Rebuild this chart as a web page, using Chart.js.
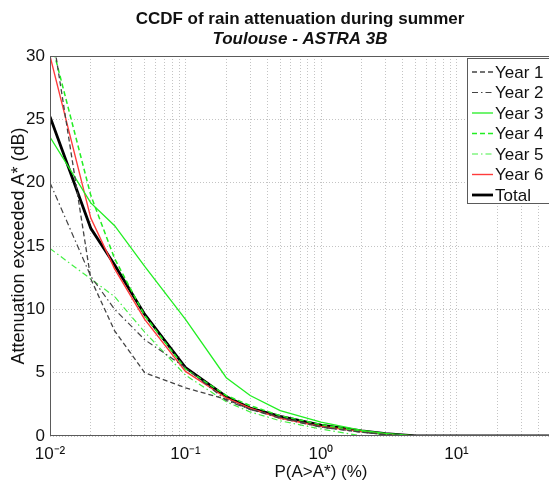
<!DOCTYPE html>
<html>
<head>
<meta charset="utf-8">
<script src="https://cdn.jsdelivr.net/npm/chart.js@4/dist/chart.umd.min.js"></script>
<style>
  body { margin: 0; overflow: hidden; background: #fff; }
  #wrap { width: 600px; height: 484px; }
</style>
</head>
<body>
<div id="wrap"><canvas id="myChart" width="600" height="484"></canvas></div>
<script>
// probabilities (%) and attenuation (dB)
const probs = [0.01, 0.02, 0.03, 0.05, 0.1, 0.2, 0.3, 0.5, 1, 2, 3, 5, 10, 20, 30, 50, 100];
const year1 = [33.0, 12.4, 8.3, 5.0, 3.8, 2.9, 2.1, 1.5, 0.7, 0.3, 0.1, 0, 0, 0, 0, 0, 0];
const year2 = [20.0, 12.6, 10.0, 7.6, 5.4, 2.8, 2.1, 1.4, 0.7, 0.3, 0.1, 0, 0, 0, 0, 0, 0];
const year3 = [23.6, 18.4, 16.6, 13.4, 9.2, 4.6, 3.2, 2.0, 1.1, 0.45, 0.2, 0, 0, 0, 0, 0, 0];
const year4 = [31.5, 19.0, 14.0, 9.5, 5.3, 3.2, 2.4, 1.6, 0.9, 0.35, 0.1, 0, 0, 0, 0, 0, 0];
const year5 = [14.8, 12.4, 11.0, 8.2, 4.8, 2.7, 1.9, 1.2, 0.55, 0, 0, 0, 0, 0, 0, 0, 0];
const year6 = [30.0, 17.2, 13.2, 9.2, 5.1, 3.0, 2.2, 1.4, 0.75, 0.35, 0.15, 0, 0, 0, 0, 0, 0];
const total = [25.2, 16.4, 13.5, 9.6, 5.4, 3.1, 2.2, 1.55, 0.85, 0.4, 0.18, 0, 0, 0, 0, 0, 0];

const seriesNames = ['Year 1', 'Year 2', 'Year 3', 'Year 4', 'Year 5', 'Year 6', 'Total'];
const xTickValues = [0.01, 0.1, 1, 10];
const xTickLabels = ['10\u207B\u00B2', '10\u207B\u00B9', '10\u2070', '10\u00B9'];
const yTicks = [0, 5, 10, 15, 20, 25, 30];

const titleText = 'CCDF of rain attenuation during summer';
const subtitleText = 'Toulouse - ASTRA 3B';
const xTitle = 'P(A>A*) (%)';
const yTitle = 'Attenuation exceeded A* (dB)';

const FONT = "'Liberation Sans', Arial, sans-serif";

// builds a line dataset from a value array
function makeSet(name, values, color, width, dash) {
    return {
        label: name,
        data: probs.map((p, i) => ({ x: p, y: values[i] })),
        borderColor: color,
        backgroundColor: color,
        borderWidth: width,
        borderDash: dash,
        pointRadius: 0,
        tension: 0,
        fill: false
    };
}

// minor grid positions for the log axis
function logGrid(minExp, maxExp) {
    let vals = [];
    for (let e = minExp; e < maxExp; e++) {
        for (let m = 1; m <= 9; m++) vals.push(m * Math.pow(10, e));
    }
    vals.push(Math.pow(10, maxExp));
    return vals;
}

const decoPlugin = {
    id: 'deco',
    afterDatasetsDraw(chart) {
        const ctx = chart.ctx;
        const a = chart.chartArea;
        ctx.save();
        ctx.strokeStyle = '#5a5a5a';
        ctx.lineWidth = 1;
        ctx.setLineDash([]);
        ctx.strokeRect(Math.round(a.left) + 0.5, Math.round(a.top) + 0.5,
            Math.round(a.right - a.left), Math.round(a.bottom - a.top) - 1);

        // legend box
        const lx = 467, ly = 58, lh = 145;
        ctx.fillStyle = '#fff';
        ctx.fillRect(lx, ly, 120, lh);
        ctx.strokeRect(lx + 0.5, ly + 0.5, 120, lh);
        ctx.font = '17px ' + FONT;
        ctx.textBaseline = 'middle';
        chart.data.datasets.forEach((ds, i) => {
            const y = 72 + i * 20.5;
            ctx.strokeStyle = ds.borderColor;
            ctx.lineWidth = ds.borderWidth;
            ctx.setLineDash(ds.borderDash || []);
            ctx.beginPath();
            ctx.moveTo(472, y);
            ctx.lineTo(493, y);
            ctx.stroke();
            ctx.setLineDash([]);
            ctx.fillStyle = '#111';
            ctx.fillText(ds.label, 495, y + 1);
        });
        ctx.restore();
    },
    afterDraw(chart) {
        const ctx = chart.ctx;
        ctx.save();
        ctx.fillStyle = '#111';
        ctx.textAlign = 'center';
        ctx.textBaseline = 'middle';
        ctx.font = 'bold 17px ' + FONT;
        ctx.fillText(titleText, 300, 19);
        ctx.font = 'italic bold 17px ' + FONT;
        ctx.fillText(subtitleText, 300, 39);
        ctx.restore();
    }
};

const ctx = document.getElementById('myChart').getContext('2d');
const myChart = new Chart(ctx, {
    type: 'line',
    data: {
        datasets: [
            makeSet(seriesNames[0], year1, '#444444', 1.3, [5, 3]),
            makeSet(seriesNames[1], year2, '#444444', 1.2, [6, 3, 1.5, 3]),
            makeSet(seriesNames[2], year3, '#22ee22', 1.3, []),
            makeSet(seriesNames[3], year4, '#22ee22', 1.5, [5, 3]),
            makeSet(seriesNames[4], year5, '#44f044', 1.2, [6, 3, 1.5, 3]),
            makeSet(seriesNames[5], year6, '#ff3b3b', 1.4, []),
            makeSet(seriesNames[6], total, '#000000', 2.8, [])
        ]
    },
    options: {
        responsive: false,
        devicePixelRatio: 1,
        animation: false,
        layout: { padding: { top: 56, right: 7, bottom: 0, left: 8 } },
        plugins: {
            legend: { display: false },
            title: { display: false },
            tooltip: { enabled: false }
        },
        scales: {
            x: {
                type: 'logarithmic',
                min: 0.01,
                max: 100,
                afterBuildTicks: (scale) => {
                    scale.ticks = logGrid(-2, 2).map(v => ({ value: v }));
                },
                afterFit: (scale) => { scale.height = 48; },
                ticks: {
                    autoSkip: false,
                    maxRotation: 0,
                    padding: 8,
                    color: '#111',
                    font: { family: FONT, size: 17 },
                    callback: (value) => {
                        const k = xTickValues.findIndex(t => Math.abs(Math.log10(t) - Math.log10(value)) < 1e-6);
                        return k >= 0 ? xTickLabels[k] : '';
                    }
                },
                grid: { color: '#c4c4c4', lineWidth: 1, drawTicks: false },
                border: { display: false, dash: [1, 2] },
                title: {
                    display: true,
                    text: xTitle,
                    color: '#111',
                    font: { family: FONT, size: 17 },
                    padding: { top: 0, bottom: 1 }
                }
            },
            y: {
                min: 0,
                max: 30,
                afterBuildTicks: (scale) => {
                    scale.ticks = yTicks.map(v => ({ value: v }));
                },
                afterFit: (scale) => { scale.width = 42; },
                ticks: {
                    padding: 5,
                    color: '#111',
                    font: { family: FONT, size: 17 }
                },
                grid: { color: '#c4c4c4', lineWidth: 1, drawTicks: false },
                border: { display: false, dash: [1, 2] },
                title: {
                    display: true,
                    text: yTitle,
                    color: '#111',
                    font: { family: FONT, size: 18 },
                    padding: { top: 0, bottom: 0 }
                }
            }
        }
    },
    plugins: [decoPlugin]
});
</script>
</body>
</html>
